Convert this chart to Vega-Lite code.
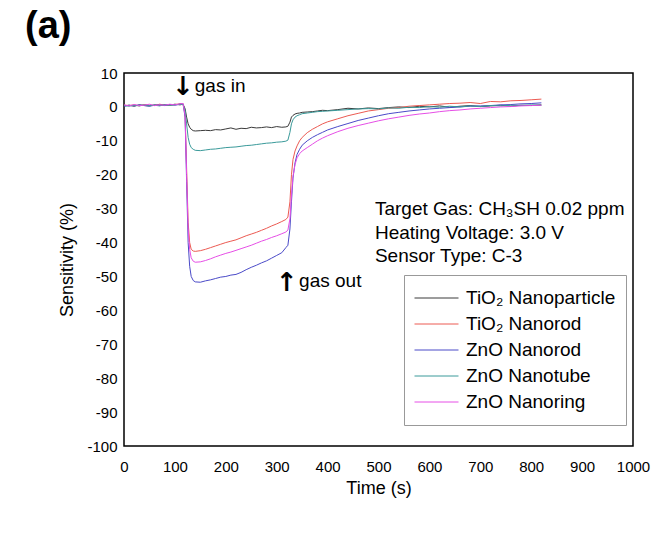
{
  "$schema": "https://vega.github.io/schema/vega-lite/v6.json",
  "autosize": "none",
  "width": 509,
  "height": 373,
  "padding": {"left": 124, "top": 73, "right": 38, "bottom": 96},
  "background": "white",
  "title": {"text": "(a)", "fontSize": 38, "fontWeight": "bold", "font": "Liberation Sans", "anchor": "start", "frame": "group", "dx": -99, "offset": 20, "color": "black"},
  "config": {
    "view": {"stroke": "black", "strokeWidth": 1.5},
    "font": "Liberation Sans",
    "axis": {"domain": false, "ticks": false, "tickSize": 0, "labelColor": "black", "titleColor": "black", "labelFont": "Liberation Sans", "titleFont": "Liberation Sans", "labelFontSize": 15, "titleFontSize": 18, "titleFontWeight": "normal", "grid": false, "labelOverlap": false}
  },
  "encoding": {
    "x": {"field": "t", "type": "quantitative", "scale": {"domain": [0, 1000], "nice": false},
      "axis": {"title": "Time (s)", "values": [0,100,200,300,400,500,600,700,800,900,1000],
        "labelExpr": "'' + datum.value",
        "labelPadding": 13, "titlePadding": 5, "labelFlush": false}},
    "y": {"field": "v", "type": "quantitative", "scale": {"domain": [-100, 10], "nice": false},
      "axis": {"title": "Sensitivity (%)", "values": [-100,-90,-80,-70,-60,-50,-40,-30,-20,-10,0,10],
        "labelExpr": "'' + datum.value",
        "labelPadding": 7, "titlePadding": 10, "labelFlush": false}}
  },
  "layer": [
    {
      "data": {"values": [{"tick":100},{"tick":200},{"tick":300},{"tick":400},{"tick":500},{"tick":600},{"tick":700},{"tick":800},{"tick":900}]},
      "mark": {"type": "rule", "color": "black", "strokeWidth": 1.3},
      "encoding": {"x": {"field": "tick", "type": "quantitative"}, "y": {"datum": -100}, "y2": {"datum": -98.5}}
    },
    {
      "data": {"values": [{"tick":50},{"tick":150},{"tick":250},{"tick":350},{"tick":450},{"tick":550},{"tick":650},{"tick":750},{"tick":850},{"tick":950}]},
      "mark": {"type": "rule", "color": "black", "strokeWidth": 1.3},
      "encoding": {"x": {"field": "tick", "type": "quantitative"}, "y": {"datum": -100}, "y2": {"datum": -99.1}}
    },
    {
      "data": {"values": [{"tick":-90},{"tick":-80},{"tick":-70},{"tick":-60},{"tick":-50},{"tick":-40},{"tick":-30},{"tick":-20},{"tick":-10},{"tick":0}]},
      "mark": {"type": "rule", "color": "black", "strokeWidth": 1.3},
      "encoding": {"y": {"field": "tick", "type": "quantitative"}, "x": {"datum": 0}, "x2": {"datum": 10}}
    },
    {
      "data": {"values": [{"tick":-95},{"tick":-85},{"tick":-75},{"tick":-65},{"tick":-55},{"tick":-45},{"tick":-35},{"tick":-25},{"tick":-15},{"tick":-5},{"tick":5}]},
      "mark": {"type": "rule", "color": "black", "strokeWidth": 1.3},
      "encoding": {"y": {"field": "tick", "type": "quantitative"}, "x": {"datum": 0}, "x2": {"datum": 6}}
    },
    {
      "data": {"values": [
        {"t":0,"P":0.3,"R":0.5,"B":0.2,"T":0.4,"M":0.6},
        {"t":10,"P":0.5,"R":0.4,"B":0.5,"T":0.2,"M":0.3},
        {"t":20,"P":0.2,"R":0.6,"B":0.3,"T":0.5,"M":0.7},
        {"t":30,"P":0.6,"R":0.3,"B":0.6,"T":0.3,"M":0.4},
        {"t":40,"P":0.4,"R":0.7,"B":0.4,"T":0.6,"M":0.5},
        {"t":50,"P":0.3,"R":0.5,"B":0.2,"T":0.4,"M":0.8},
        {"t":60,"P":0.6,"R":0.4,"B":0.5,"T":0.5,"M":0.4},
        {"t":70,"P":0.4,"R":0.8,"B":0.6,"T":0.3,"M":0.6},
        {"t":80,"P":0.7,"R":0.5,"B":0.4,"T":0.7,"M":0.5},
        {"t":90,"P":0.5,"R":0.6,"B":0.7,"T":0.5,"M":0.8},
        {"t":100,"P":0.8,"R":0.7,"B":0.5,"T":0.6,"M":0.6},
        {"t":110,"P":0.6,"R":0.9,"B":0.8,"T":0.8,"M":0.9},
        {"t":116,"P":0.8,"R":1.0,"B":0.9,"T":0.7,"M":1.0},
        {"t":120,"P":-0.5,"R":-2,"B":-3,"T":-1,"M":-2.5},
        {"t":123,"P":-3,"R":-18,"B":-22,"T":-5,"M":-20},
        {"t":126,"P":-5,"R":-34,"B":-40,"T":-9,"M":-36},
        {"t":129,"P":-6,"R":-40,"B":-47,"T":-11,"M":-42},
        {"t":132,"P":-6.6,"R":-42,"B":-50,"T":-12,"M":-44.5},
        {"t":136,"P":-7,"R":-42.5,"B":-51.2,"T":-12.5,"M":-45.5},
        {"t":140,"P":-7.1,"R":-42.6,"B":-51.6,"T":-12.8,"M":-45.8},
        {"t":150,"P":-7.0,"R":-42.4,"B":-51.7,"T":-12.9,"M":-45.7},
        {"t":160,"P":-6.9,"R":-42.0,"B":-51.3,"T":-12.7,"M":-45.3},
        {"t":170,"P":-7.0,"R":-41.5,"B":-51.0,"T":-12.5,"M":-44.8},
        {"t":180,"P":-6.7,"R":-41.0,"B":-50.6,"T":-12.4,"M":-44.2},
        {"t":190,"P":-6.8,"R":-40.5,"B":-50.2,"T":-12.2,"M":-43.7},
        {"t":200,"P":-6.5,"R":-40.0,"B":-50.0,"T":-12.0,"M":-43.2},
        {"t":210,"P":-6.2,"R":-39.6,"B":-49.6,"T":-11.9,"M":-42.8},
        {"t":220,"P":-6.6,"R":-39.2,"B":-49.4,"T":-11.8,"M":-42.3},
        {"t":230,"P":-6.3,"R":-38.6,"B":-48.8,"T":-11.6,"M":-41.8},
        {"t":240,"P":-6.4,"R":-38.0,"B":-48.0,"T":-11.4,"M":-41.3},
        {"t":250,"P":-6.0,"R":-37.5,"B":-47.3,"T":-11.3,"M":-40.8},
        {"t":260,"P":-6.2,"R":-37.0,"B":-46.7,"T":-11.1,"M":-40.2},
        {"t":270,"P":-6.1,"R":-36.4,"B":-46.0,"T":-10.9,"M":-39.6},
        {"t":280,"P":-5.9,"R":-35.8,"B":-45.4,"T":-10.7,"M":-39.1},
        {"t":290,"P":-6.1,"R":-35.1,"B":-44.6,"T":-10.6,"M":-38.5},
        {"t":300,"P":-5.8,"R":-34.5,"B":-43.8,"T":-10.4,"M":-38.0},
        {"t":310,"P":-6.0,"R":-33.8,"B":-43.0,"T":-10.3,"M":-37.4},
        {"t":318,"P":-5.9,"R":-33.2,"B":-41.5,"T":-10.1,"M":-36.9},
        {"t":322,"P":-5.7,"R":-32.5,"B":-40.8,"T":-9.8,"M":-36.3},
        {"t":326,"P":-4.5,"R":-28,"B":-36,"T":-7.5,"M":-33},
        {"t":329,"P":-3.0,"R":-20,"B":-28,"T":-5.0,"M":-26},
        {"t":332,"P":-2.5,"R":-15.5,"B":-21,"T":-3.8,"M":-20.5},
        {"t":336,"P":-2.1,"R":-13.0,"B":-16.5,"T":-3.0,"M":-17.0},
        {"t":340,"P":-1.9,"R":-11.5,"B":-14.0,"T":-2.6,"M":-15.0},
        {"t":345,"P":-1.8,"R":-10.0,"B":-12.5,"T":-2.3,"M":-13.8},
        {"t":350,"P":-1.6,"R":-9.0,"B":-11.3,"T":-2.0,"M":-13.0},
        {"t":360,"P":-1.5,"R":-7.6,"B":-10.0,"T":-1.8,"M":-12.0},
        {"t":370,"P":-1.4,"R":-6.6,"B":-9.0,"T":-1.6,"M":-11.0},
        {"t":380,"P":-1.2,"R":-5.8,"B":-8.2,"T":-1.4,"M":-10.0},
        {"t":390,"P":-1.0,"R":-5.0,"B":-7.5,"T":-1.3,"M":-9.2},
        {"t":400,"P":-1.1,"R":-4.4,"B":-6.8,"T":-1.2,"M":-8.5},
        {"t":420,"P":-0.8,"R":-3.5,"B":-5.8,"T":-1.0,"M":-7.3},
        {"t":440,"P":-0.4,"R":-2.6,"B":-4.9,"T":-0.8,"M":-6.3},
        {"t":460,"P":-0.6,"R":-1.9,"B":-4.0,"T":-0.6,"M":-5.5},
        {"t":480,"P":-0.3,"R":-1.2,"B":-3.3,"T":-0.5,"M":-4.8},
        {"t":500,"P":-0.5,"R":-0.8,"B":-2.6,"T":-0.6,"M":-4.1},
        {"t":520,"P":-0.2,"R":-0.4,"B":-2.0,"T":-0.3,"M":-3.5},
        {"t":540,"P":0.0,"R":-0.2,"B":-1.6,"T":-0.4,"M":-3.0},
        {"t":560,"P":-0.2,"R":0.2,"B":-1.2,"T":-0.1,"M":-2.5},
        {"t":580,"P":0.2,"R":0.4,"B":-0.9,"T":-0.2,"M":-2.1},
        {"t":600,"P":0.0,"R":0.6,"B":-0.6,"T":0.1,"M":-1.8},
        {"t":620,"P":0.3,"R":0.8,"B":-0.4,"T":-0.1,"M":-1.4},
        {"t":640,"P":-0.1,"R":1.0,"B":-0.2,"T":0.2,"M":-1.1},
        {"t":660,"P":0.2,"R":1.1,"B":0.0,"T":0.0,"M":-0.9},
        {"t":680,"P":0.4,"R":1.3,"B":0.2,"T":0.3,"M":-0.6},
        {"t":700,"P":0.1,"R":1.0,"B":0.3,"T":0.1,"M":-0.4},
        {"t":720,"P":0.3,"R":1.6,"B":0.4,"T":0.4,"M":-0.2},
        {"t":740,"P":0.5,"R":1.5,"B":0.6,"T":0.3,"M":0.0},
        {"t":760,"P":0.2,"R":1.8,"B":0.7,"T":0.5,"M":0.1},
        {"t":780,"P":0.5,"R":1.9,"B":0.9,"T":0.4,"M":0.3},
        {"t":800,"P":0.4,"R":2.1,"B":1.0,"T":0.6,"M":0.4},
        {"t":820,"P":0.6,"R":2.3,"B":1.2,"T":0.5,"M":0.5}
      ]},
      "transform": [{"fold": ["P", "R", "B", "T", "M"], "as": ["series", "v"]}],
      "mark": {"type": "line", "strokeWidth": 1, "clip": true},
      "encoding": {
        "color": {"field": "series", "type": "nominal",
          "scale": {"domain": ["P", "R", "B", "T", "M"], "range": ["#3a3a3a", "#ec5a52", "#4a4ac8", "#3a9a9a", "#e64ee6"]},
          "legend": {"title": null, "orient": "none", "legendX": 280, "legendY": 202, "direction": "vertical",
            "labelExpr": "{'P': 'TiO₂ Nanoparticle', 'R': 'TiO₂ Nanorod', 'B': 'ZnO Nanorod', 'T': 'ZnO Nanotube', 'M': 'ZnO Nanoring'}[datum.label]",
            "symbolType": "stroke", "symbolSize": 1936, "symbolStrokeWidth": 1, "clipHeight": 26, "rowPadding": 0,
            "labelFontSize": 19, "labelFont": "Liberation Sans", "labelColor": "black", "labelOffset": 7,
            "strokeColor": "#999999", "fillColor": "white", "padding": 10, "offset": 0}}
      }
    },
    {
      "data": {"values": [
        {"t": 139, "v": 6.2, "label": "gas in"},
        {"t": 344, "v": -51.3, "label": "gas out"},
        {"t": 493, "v": -30.0, "label": "Target Gas: CH₃SH 0.02 ppm"},
        {"t": 493, "v": -37.2, "label": "Heating Voltage: 3.0 V"},
        {"t": 493, "v": -44.1, "label": "Sensor Type: C-3"}
      ]},
      "mark": {"type": "text", "align": "left", "baseline": "middle", "fontSize": 19, "font": "Liberation Sans", "color": "black"},
      "encoding": {
        "text": {"field": "label"}
      }
    },
    {
      "data": {"values": [
        {"t": 116, "v": 6.0, "label": "↓"},
        {"t": 320, "v": -52.0, "label": "↑"}
      ]},
      "mark": {"type": "text", "align": "center", "baseline": "middle", "fontSize": 26, "fontWeight": "bold", "font": "DejaVu Sans", "color": "black"},
      "encoding": {
        "text": {"field": "label"}
      }
    }
  ]
}
